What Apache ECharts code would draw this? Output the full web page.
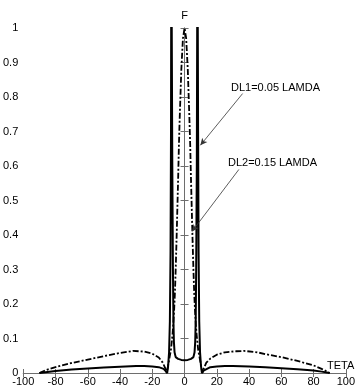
<!DOCTYPE html>
<html><head><meta charset="utf-8">
<script src="https://cdn.jsdelivr.net/npm/echarts@6/dist/echarts.min.js"></script>
<style>html,body{margin:0;padding:0;background:#fff}#c{width:358px;height:388px}</style>
</head><body><div id="c"></div>
<script>
// DL1 = 0.05 LAMDA (solid)
const theta1 = [-90,-85,-80,-70,-60,-50,-40,-30,-25,-20,-16,-13,-11.8,-10.8,-10.2,-9.6,-9.1,-8.7,-8.4,-8.2,
  -8.0,-7.6,-7.2,-6.9,-6.6,-6.2,-5.5,-4,-2,0,2,4,5.5,6.2,6.6,6.9,7.2,7.6,8.0,
  8.2,8.4,8.7,9.1,9.6,10.2,10.8,11.8,13,16,20,25,30,40,50,60,70,80,85,90];
const F1 = [0,0.003,0.006,0.010,0.013,0.016,0.018,0.020,0.020,0.019,0.017,0.012,0.006,0,0.02,0.06,0.15,0.35,0.7,1.3,
  1.3,0.6,0.3,0.15,0.09,0.06,0.046,0.041,0.038,0.037,0.038,0.041,0.046,0.06,0.09,0.15,0.3,0.6,1.3,
  1.3,0.7,0.35,0.15,0.06,0.02,0,0.007,0.012,0.017,0.019,0.020,0.020,0.019,0.017,0.014,0.011,0.007,0.004,0];
// DL2 = 0.15 LAMDA (dash-dot)
const theta2 = [-90,-85,-80,-70,-60,-50,-40,-32,-25,-20,-16,-13.5,-12,-11,-10.3,-9.5,-8.5,-7.5,-7,-6.5,-6,-5.5,-5,-4.5,-4,-3.5,-3,-2,-1,0,
  1,2,3,3.5,4,4.5,5,5.5,6,6.5,7,7.5,8.5,9.5,10.3,11,12,13.5,16,20,25,32,37,45,50,60,70,80,85,90];
const F2 = [0,0.010,0.017,0.029,0.039,0.049,0.058,0.064,0.062,0.056,0.045,0.030,0.014,0,0.02,0.04,0.065,0.11,0.14,0.18,0.23,0.30,0.38,0.47,0.56,0.66,0.74,0.88,0.97,1.0,
  0.97,0.88,0.74,0.66,0.56,0.47,0.38,0.30,0.23,0.18,0.14,0.11,0.065,0.04,0.02,0,0.014,0.030,0.042,0.053,0.060,0.063,0.064,0.060,0.055,0.046,0.035,0.022,0.012,0];
const xTicks = {min:-100, max:100, step:20};
const yTicks = {min:0, max:1, step:0.1};
const ann1 = {text:'DL1=0.05 LAMDA', from:[36,0.81], to:[9.8,0.66]};
const ann2 = {text:'DL2=0.15 LAMDA', from:[33.7,0.59], to:[4.6,0.41]};

const FONT = 'Liberation Sans, Arial, sans-serif';
const pair = (xs, ys) => xs.map((x,i)=>[x, ys[i]]);
const axisLine = {show:true, lineStyle:{color:'#6e6e6e', width:1}};
const tickIn = {show:true, inside:true, length:4, lineStyle:{color:'#6e6e6e'}};
const chart = echarts.init(document.getElementById('c'), null, {renderer:'canvas'});
chart.setOption({
  animation:false,
  backgroundColor:'#fff',
  grid:{left:20, right:10, top:28, bottom:15, containLabel:false},
  xAxis:[
    {type:'value', min:xTicks.min, max:xTicks.max, interval:xTicks.step, position:'bottom',
     axisLine, axisTick:tickIn, splitLine:{show:false},
     axisLabel:{color:'#000', fontSize:11, fontFamily:FONT, margin:3, showMinLabel:true, showMaxLabel:true}},
    {type:'value', min:xTicks.min, max:xTicks.max, interval:xTicks.step, position:'top',
     name:'F', nameLocation:'middle', nameGap:7, nameTextStyle:{color:'#000', fontSize:11, fontFamily:FONT},
     axisLine, axisTick:tickIn, splitLine:{show:false}, axisLabel:{show:false}}
  ],
  yAxis:[
    {type:'value', min:yTicks.min, max:yTicks.max, interval:yTicks.step, position:'left',
     axisLine, axisTick:tickIn, splitLine:{show:false},
     axisLabel:{color:'#000', fontSize:11, fontFamily:FONT, margin:5}},
    {type:'value', min:yTicks.min, max:yTicks.max, interval:yTicks.step, position:'right',
     axisLine, axisTick:tickIn, splitLine:{show:false}, axisLabel:{show:false}}
  ],
  graphic:[
    {type:'text', left:327, top:360, style:{text:'TETA', fill:'#000', font:'11px '+FONT}},
    {type:'text', left:231, top:82, style:{text:ann1.text, fill:'#000', font:'11px '+FONT}},
    {type:'text', left:228, top:157, style:{text:ann2.text, fill:'#000', font:'11px '+FONT}}
  ],
  series:[
    {type:'line', name:'DL1', data:pair(theta1,F1), symbol:'none', clip:true,
     lineStyle:{color:'#000', width:2}},
    {type:'line', name:'DL2', data:pair(theta2,F2), symbol:'none', clip:true,
     lineStyle:{color:'#000', width:1.8, type:[6,2,2,2]}},
    {type:'line', data:[], symbol:'none',
     markLine:{silent:true, symbol:['none','arrow'], symbolSize:[5,7], label:{show:false},
       lineStyle:{color:'#333', width:0.8, type:'solid'},
       data:[[{coord:ann1.from},{coord:ann1.to}],[{coord:ann2.from},{coord:ann2.to}]]}}
  ]
});
</script></body></html>
